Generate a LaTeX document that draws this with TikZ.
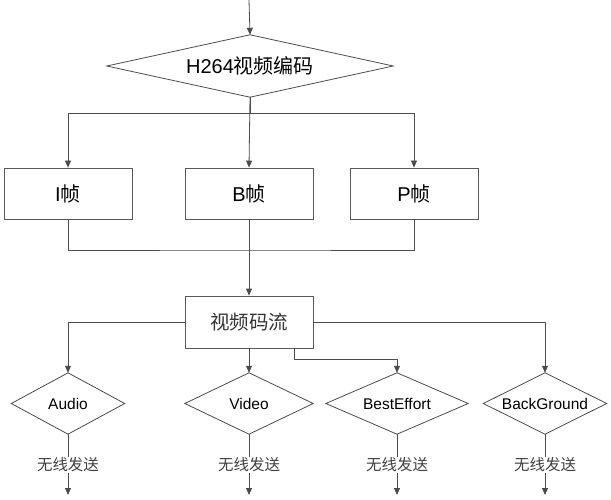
\documentclass[tikz,border=0pt]{standalone}
\usepackage{fontspec}
\setmainfont{Liberation Sans}
\newfontfamily\cjk{Noto Sans CJK SC}
\usepackage{tikz}
\usetikzlibrary{calc,positioning,shapes}
\usetikzlibrary{arrows.meta}
\tikzset{>={Triangle[width=6pt,length=7pt]}}

\begin{document}
\begin{tikzpicture}[x=1pt, y=-1pt]
          \tikzstyle{conn} = [draw=black!70, line width=0.8pt]
          \tikzstyle{box} = [draw=black!65, line width=0.8pt, rectangle, inner sep = 0pt, minimum width=128pt, minimum height=51pt, align=center, font=\fontsize{20}{22}\selectfont]
          \tikzstyle{dnode} = [rectangle, inner sep = 0pt, minimum height=61pt, align=center, font=\fontsize{15.5}{17}\selectfont,
            append after command={\pgfextra{\draw[conn] (\tikzlastnode.north) -- (\tikzlastnode.east) -- (\tikzlastnode.south) -- (\tikzlastnode.west) -- cycle;}}]
          \tikzstyle{snode} = [inner sep = 1pt, text=black!75, font=\fontsize{15.5}{17}\selectfont\cjk]

          \useasboundingbox (0,0) rectangle (611,500);

          \coordinate (in) at (249, 0);
          \node[dnode, minimum width=286pt, minimum height=62pt, font=\fontsize{20}{22}\selectfont] (enc) at (250, 66) {H264{\cjk 视频编码}};

          \node[box] (iframe) at (68, 193.5) {I{\cjk 帧}};
          \node[box] (bframe) at (249, 193.5) {B{\cjk 帧}};
          \node[box] (pframe) at (414, 193.5) {P{\cjk 帧}};
          \coordinate (mrg) at (249, 250);

          \node[box, minimum height=52pt, text=black!80, font=\fontsize{19.5}{22}\selectfont\cjk] (strm) at (249, 322) {视频码流};

          \node[dnode, minimum width=113pt] (aud) at (68, 403.5) {Audio};
          \node[dnode, minimum width=128pt] (vid) at (249, 403.5) {Video};
          \node[dnode, minimum width=142pt] (best) at (397, 403.5) {BestEffort};
          \node[dnode, minimum width=123pt] (bg) at (545, 403.5) {BackGround};

          \node[snode] (s1) at (68, 465) {无线发送};
          \node[snode] (s2) at (249, 465) {无线发送};
          \node[snode] (s3) at (397, 465) {无线发送};
          \node[snode] (s4) at (545, 465) {无线发送};
          \coordinate (o1) at (68, 495);
          \coordinate (o2) at (249, 495);
          \coordinate (o3) at (397, 495);
          \coordinate (o4) at (545, 495);

          \draw[conn, ->] (in) -- (enc.north);
          \draw[conn, ->] (enc.south) -- (bframe.north);
          \draw[conn, ->] (enc.south) -- ++(0, 16) -| (iframe.north);
          \draw[conn, ->] (enc.south) -- ++(0, 16) -| (pframe.north);
          \draw[conn] (iframe.south) |- (mrg) -| (pframe.south);
          \draw[conn, ->] (bframe.south) -- (strm.north);

          \draw[conn, ->] (strm.west) -| (aud.north);
          \draw[conn, ->] (strm.south) -- (vid.north);
          \draw[conn, ->] ([xshift=45pt]strm.south) -- ++(0, 11) -| (best.north);
          \draw[conn, ->] (strm.east) -| (bg.north);

          \draw[conn] (aud.south) -- (s1.north);
          \draw[conn] (vid.south) -- (s2.north);
          \draw[conn] (best.south) -- (s3.north);
          \draw[conn] (bg.south) -- (s4.north);
          \draw[conn, ->] (s1.south) -- (o1);
          \draw[conn, ->] (s2.south) -- (o2);
          \draw[conn, ->] (s3.south) -- (o3);
          \draw[conn, ->] (s4.south) -- (o4);
        \end{tikzpicture}
\end{document}
